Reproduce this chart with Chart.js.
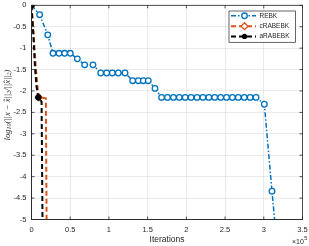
<!DOCTYPE html>
<html><head><meta charset="utf-8">
<script src="https://cdn.jsdelivr.net/npm/chart.js@4/dist/chart.umd.min.js"></script>
<style>html,body{margin:0;padding:0;background:#fff;overflow:hidden}#wrap{position:relative;width:309px;height:246px}</style>
</head><body><div id="wrap"><canvas id="c" width="309" height="246"></canvas></div>
<script>
// ---- data ----
const xTicks = [0, 50000, 100000, 150000, 200000, 250000, 300000, 350000];
const xTickLabels = ['0', '0.5', '1', '1.5', '2', '2.5', '3', '3.5'];
const yTicks = [0, -0.5, -1, -1.5, -2, -2.5, -3, -3.5, -4, -4.5, -5];
const yTickLabels = ['0', '-0.5', '-1', '-1.5', '-2', '-2.5', '-3', '-3.5', '-4', '-4.5', '-5'];
const seriesNames = ['REBK', 'cRABEBK', 'aRABEBK'];

const rebkX = [0, 10500, 21000, 27800, 35500, 42800, 50100, 59200, 68700, 79400, 89400, 97100, 104400, 112100, 120800, 130700, 138000, 144400, 150800, 159500,
  168000, 175600, 183300, 190900, 198500, 206100, 213800, 221400, 229000, 236600, 244300, 251900, 259500, 267100, 274800, 282400, 290000,
  300700, 310600, 318000];
const rebkY = [0, -0.22, -0.69, -1.12, -1.12, -1.12, -1.12, -1.25, -1.39, -1.39, -1.58, -1.58, -1.58, -1.58, -1.58, -1.76, -1.76, -1.76, -1.76, -1.94,
  -2.15, -2.15, -2.15, -2.15, -2.15, -2.15, -2.15, -2.15, -2.15, -2.15, -2.15, -2.15, -2.15, -2.15, -2.15, -2.15, -2.15,
  -2.31, -4.34, -5.8];
const rebkMarker = [1,1,1,1,1,1,1,1,1,1,1,1,1,1,1,1,1,1,1,1, 1,1,1,1,1,1,1,1,1,1,1,1,1,1,1,1,1, 1,1,0];

const crabX = [0, 2800, 5500, 8000, 9500, 18500, 19500];
const crabY = [0, -0.67, -1.45, -1.95, -2.15, -2.17, -5.0];
const crabMarker = [1, 0, 0, 0, 1, 0, 0];

const arabX = [0, 2300, 4500, 6500, 8800, 13000, 14200];
const arabY = [0, -0.67, -1.45, -1.9, -2.15, -2.25, -5.0];
const arabMarker = [1, 0, 0, 0, 1, 0, 0];

// ---- styles ----
const BLUE = '#0072BD', ORANGE = '#D95319', BLACK = '#000000', TXT = '#262626';
const FONT = "'Liberation Sans', Arial, sans-serif";

function pts(xs, ys) { return xs.map((x, i) => ({ x: x, y: ys[i] })); }

const boxPlugin = {
  id: 'boxPlugin',
  afterDraw(chart) {
    const ctx = chart.ctx, a = chart.chartArea;
    const xs = chart.scales.x, ys = chart.scales.y;
    ctx.save();
    ctx.strokeStyle = TXT;
    ctx.lineWidth = 0.8;
    ctx.strokeRect(a.left, a.top, a.right - a.left, a.bottom - a.top);
    // inward ticks
    ctx.beginPath();
    xTicks.forEach(v => {
      const p = xs.getPixelForValue(v);
      ctx.moveTo(p, a.bottom); ctx.lineTo(p, a.bottom - 3);
      ctx.moveTo(p, a.top); ctx.lineTo(p, a.top + 3);
    });
    yTicks.forEach(v => {
      const p = ys.getPixelForValue(v);
      ctx.moveTo(a.left, p); ctx.lineTo(a.left + 3, p);
      ctx.moveTo(a.right, p); ctx.lineTo(a.right - 3, p);
    });
    ctx.stroke();

    // x title and exponent
    ctx.fillStyle = TXT;
    ctx.font = "8.5px " + FONT;
    ctx.textAlign = 'center'; ctx.textBaseline = 'middle';
    ctx.fillText('Iterations', (a.left + a.right) / 2, 240);
    ctx.textAlign = 'left'; ctx.textBaseline = 'alphabetic';
    ctx.font = "7px " + FONT;
    const ex = 292;
    ctx.fillText('\u00d710', ex, 243.5);
    const ew = ctx.measureText('\u00d710').width;
    ctx.font = "5.5px " + FONT;
    ctx.fillText('5', ex + ew + 0.3, 239.5);

    // y title
    ctx.save();
    ctx.translate(7.5, 105);
    ctx.rotate(-Math.PI / 2);
    const big = "italic 8.5px 'Liberation Serif', 'DejaVu Serif', serif";
    const small = "italic 6px 'Liberation Serif', 'DejaVu Serif', serif";
    const parts = [['log', big, 0], ['10', small, 2], ['(||x \u2212 x\u0302||', big, 0], ['2', small, 2], ['/||x\u0302||', big, 0], ['2', small, 2], [')', big, 0]];
    let w = 0;
    parts.forEach(p => { ctx.font = p[1]; w += ctx.measureText(p[0]).width; });
    let cx = -w / 2;
    ctx.textAlign = 'left'; ctx.textBaseline = 'middle';
    parts.forEach(p => { ctx.font = p[1]; ctx.fillText(p[0], cx, p[2]); cx += ctx.measureText(p[0]).width; });
    ctx.restore();

    // legend
    const lx = 229, ly = 11, lw = 66.5, lh = 31.3;
    ctx.fillStyle = '#fff';
    ctx.fillRect(lx, ly, lw, lh);
    ctx.strokeStyle = TXT; ctx.lineWidth = 0.7;
    ctx.strokeRect(lx, ly, lw, lh);
    const rows = [15.8, 26.2, 36.4];
    const cols = [BLUE, ORANGE, BLACK];
    const dashes = [[5, 2, 1.5, 2], [5, 3], [5, 3]];
    rows.forEach((ry, i) => {
      ctx.save();
      ctx.strokeStyle = cols[i]; ctx.lineWidth = i === 0 ? 1.5 : 2;
      ctx.setLineDash(dashes[i]);
      ctx.beginPath(); ctx.moveTo(231, ry); ctx.lineTo(256, ry); ctx.stroke();
      ctx.setLineDash([]);
      ctx.lineWidth = 1.3;
      const mx = 244.5;
      if (i === 0) { ctx.fillStyle = '#fff'; ctx.beginPath(); ctx.arc(mx, ry, 2.8, 0, Math.PI * 2); ctx.fill(); ctx.stroke(); }
      if (i === 1) { ctx.fillStyle = '#fff'; ctx.beginPath(); ctx.moveTo(mx, ry - 3.5); ctx.lineTo(mx + 3.5, ry); ctx.lineTo(mx, ry + 3.5); ctx.lineTo(mx - 3.5, ry); ctx.closePath(); ctx.fill(); ctx.stroke(); }
      if (i === 2) { ctx.fillStyle = BLACK; ctx.beginPath(); ctx.arc(mx, ry, 2.6, 0, Math.PI * 2); ctx.fill(); }
      ctx.restore();
      ctx.fillStyle = TXT; ctx.font = "6.5px " + FONT;
      ctx.textAlign = 'left'; ctx.textBaseline = 'middle';
      ctx.fillText(seriesNames[i], 259.5, ry + 0.3);
    });
    ctx.restore();
  }
};

new Chart(document.getElementById('c'), {
  type: 'line',
  data: {
    datasets: [
      {
        label: seriesNames[0], data: pts(rebkX, rebkY),
        borderColor: BLUE, borderWidth: 1.5, borderDash: [5, 2, 1.5, 2],
        pointStyle: 'circle', pointRadius: rebkMarker.map(m => m ? 2.8 : 0),
        pointBorderColor: BLUE, pointBackgroundColor: '#fff', pointBorderWidth: 1.3,
        tension: 0, order: 3
      },
      {
        label: seriesNames[1], data: pts(crabX, crabY),
        borderColor: ORANGE, borderWidth: 2, borderDash: [5, 3],
        pointStyle: 'rectRot', pointRadius: crabMarker.map(m => m ? 3.5 : 0),
        pointBorderColor: ORANGE, pointBackgroundColor: '#fff', pointBorderWidth: 1.3,
        tension: 0, order: 2
      },
      {
        label: seriesNames[2], data: pts(arabX, arabY),
        borderColor: BLACK, borderWidth: 2, borderDash: [5, 3],
        pointStyle: 'circle', pointRadius: arabMarker.map(m => m ? 2.8 : 0),
        pointBorderColor: BLACK, pointBackgroundColor: BLACK, pointBorderWidth: 1,
        tension: 0, order: 1
      }
    ]
  },
  options: {
    responsive: false, animation: false, devicePixelRatio: 1,
    layout: { padding: { left: 0, top: 5, right: 6.5, bottom: 0 } },
    plugins: { legend: { display: false }, tooltip: { enabled: false } },
    scales: {
      x: {
        type: 'linear', min: 0, max: 350000,
        afterBuildTicks: s => { s.ticks = xTicks.map(v => ({ value: v })); },
        afterFit: s => { s.height = 26.5; },
        ticks: { callback: (v, i) => xTickLabels[i], color: TXT, font: { size: 7.5, family: FONT }, padding: 0, maxRotation: 0, autoSkip: false },
        grid: { color: 'rgba(38,38,38,0.13)', lineWidth: 0.7, drawTicks: true, tickLength: 6, tickColor: 'rgba(0,0,0,0)' },
        border: { color: TXT, width: 0.8 }
      },
      y: {
        type: 'linear', min: -5, max: 0,
        afterBuildTicks: s => { s.ticks = yTicks.map(v => ({ value: v })); },
        afterFit: s => { s.width = 31.5; },
        ticks: { callback: (v, i) => yTickLabels[i], color: TXT, font: { size: 7.5, family: FONT }, padding: 0, autoSkip: false },
        grid: { color: 'rgba(38,38,38,0.13)', lineWidth: 0.7, drawTicks: true, tickLength: 5, tickColor: 'rgba(0,0,0,0)' },
        border: { color: TXT, width: 0.8 }
      }
    }
  },
  plugins: [boxPlugin]
});
</script>
</body></html>
